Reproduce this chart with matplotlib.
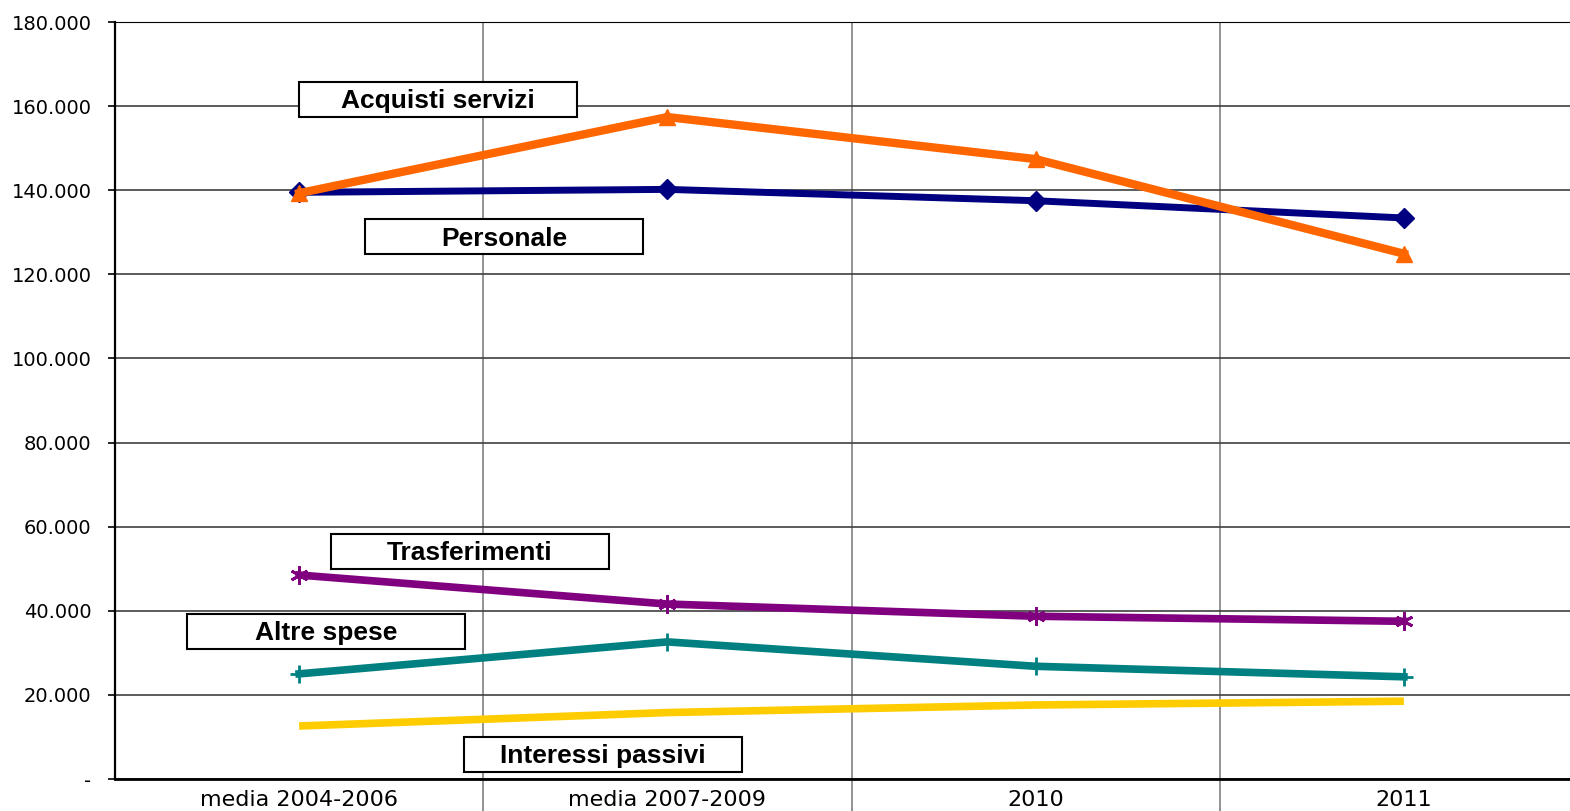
import matplotlib
matplotlib.use("Agg")
import matplotlib.pyplot as plt
from matplotlib.patches import Rectangle
from matplotlib.ticker import FixedLocator, FuncFormatter
import numpy as np

# dati (migliaia)
categorie = ["media 2004-2006", "media 2007-2009", "2010", "2011"]
personale = [139.5, 140.2, 137.5, 133.4]
acquisti_servizi = [139.3, 157.4, 147.4, 124.9]
trasferimenti = [48.5, 41.6, 38.7, 37.5]
altre_spese = [25.0, 32.6, 26.8, 24.3]
interessi_passivi = [12.6, 15.8, 17.6, 18.5]

fig = plt.figure(figsize=(15.70, 8.11), dpi=100)
ax = fig.add_axes([115/1570, 32/811, 1473/1570, 757/811])

x = np.arange(len(categorie)) + 0.5

ax.plot(x, personale, color='#000080', lw=5, marker='D', ms=10, zorder=5)
ax.plot(x, acquisti_servizi, color='#FF6600', lw=6, marker='^', ms=12, zorder=6)
ax.plot(x, trasferimenti, color='#800080', lw=5.5, marker=(6, 2, 0), ms=13, mew=2, zorder=5)
ax.plot(x, altre_spese, color='#008080', lw=5.5, marker='+', ms=13, mew=2, zorder=5)
ax.plot(x, interessi_passivi, color='#FFCC00', lw=5.5, solid_capstyle='butt', zorder=5)

ax.set_xlim(0, 4)
ax.set_ylim(0, 180)

# griglia e assi
ax.set_yticks(np.arange(0, 181, 20))
ax.yaxis.set_major_formatter(FuncFormatter(lambda v, p: '-' if v == 0 else '%d.000' % v))
ax.grid(axis='y', color='#404040', lw=1.2)
ax.set_xticks(x)
ax.set_xticklabels(categorie, fontsize=16, family='DejaVu Sans')
ax.xaxis.set_minor_locator(FixedLocator([1, 2, 3]))
ax.tick_params(axis='x', which='major', length=0, pad=8)
ax.tick_params(axis='x', which='minor', length=25, color='#808080', width=1.2)
ax.grid(axis='x', which='minor', color='#808080', lw=1.2)
ax.tick_params(axis='y', length=5, width=1.2, pad=12, labelsize=14)
for lbl in ax.get_yticklabels():
    lbl.set_family('DejaVu Sans')

ax.spines['right'].set_visible(False)
ax.spines['top'].set_color('black')
ax.spines['left'].set_linewidth(1.6)
ax.spines['bottom'].set_linewidth(2)
ax.set_axisbelow(True)

# etichette delle serie
etichette = [("Acquisti servizi", 0.877, 161.5),
             ("Personale", 1.056, 128.9),
             ("Trasferimenti", 0.964, 54.2),
             ("Altre spese", 0.573, 35.0),
             ("Interessi passivi", 1.325, 5.9)]
bw, bh = 278/368.3, 35/757*180
for testo, cx, cy in etichette:
    ax.add_patch(Rectangle((cx - bw/2, cy - bh/2), bw, bh, facecolor='white',
                           edgecolor='black', lw=1.5, zorder=7))
    ax.text(cx, cy - 0.4, testo, ha='center', va='center', fontsize=19,
            fontweight='bold', family='Liberation Sans', zorder=8)

fig.savefig("out.png", dpi=100)
